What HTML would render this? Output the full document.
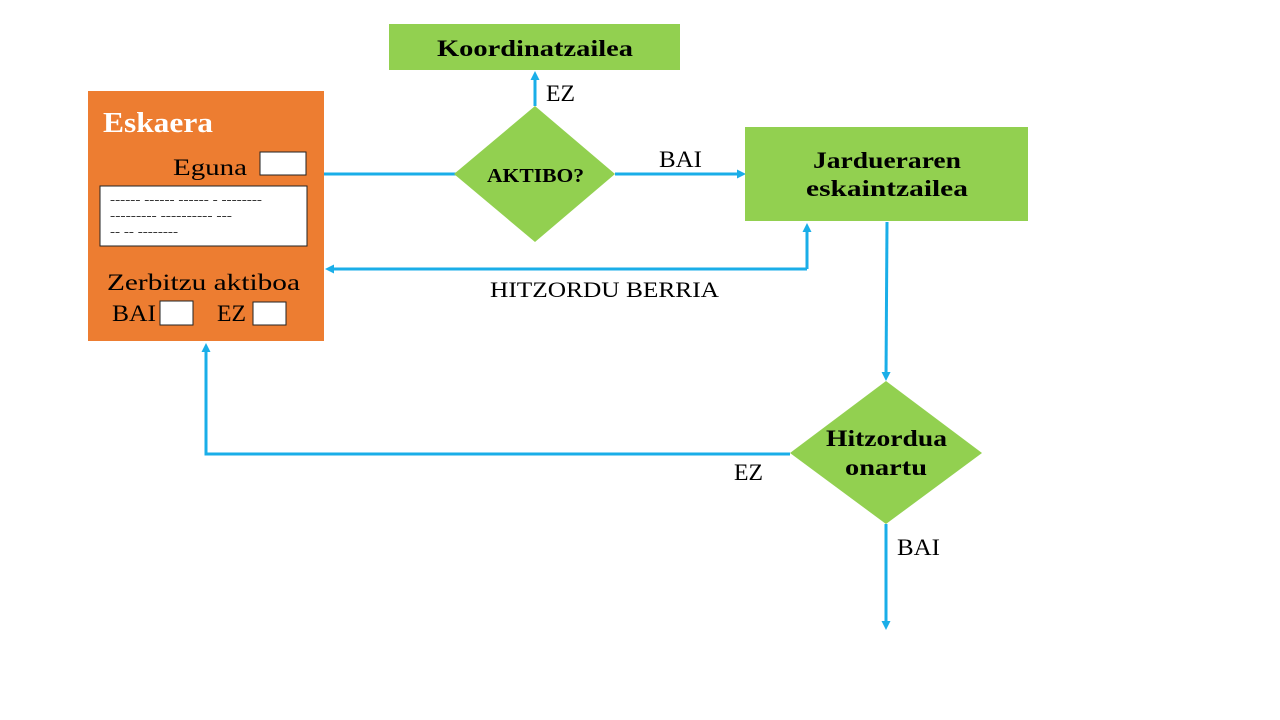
<!DOCTYPE html>
<html><head><meta charset="utf-8"><style>
html,body{margin:0;padding:0;background:#fff;width:1280px;height:720px;overflow:hidden}
text{font-family:"Liberation Serif",serif}
</style></head><body>
<svg width="1280" height="720" xmlns="http://www.w3.org/2000/svg">
<defs><marker id="a" markerWidth="9" markerHeight="9" refX="6" refY="4.5" orient="auto" markerUnits="userSpaceOnUse"><path d="M0,0 L9,4.5 L0,9 Z" fill="#1aaee8"/></marker></defs>
<g stroke="#1aaee8" stroke-width="3" fill="none">
<line x1="324" y1="174" x2="456" y2="174"/>
<line x1="615" y1="174" x2="743" y2="174" marker-end="url(#a)"/>
<line x1="535" y1="106" x2="535" y2="74" marker-end="url(#a)"/>
<polyline points="807,269 807,226" marker-end="url(#a)"/>
<line x1="807" y1="269" x2="328" y2="269" marker-end="url(#a)"/>
<line x1="887" y1="222" x2="886" y2="378" marker-end="url(#a)"/>
<polyline points="790,454 206,454 206,346" marker-end="url(#a)"/>
<line x1="886" y1="524" x2="886" y2="627" marker-end="url(#a)"/>
</g>
<g lengthAdjust="spacingAndGlyphs">
<rect x="389" y="24" width="291" height="46" fill="#92d050"/>
<text x="437" y="56" font-size="23" font-weight="bold" textLength="196" lengthAdjust="spacingAndGlyphs">Koordinatzailea</text>
<rect x="88" y="91" width="236" height="250" fill="#ed7d31"/>
<text x="103" y="132" font-size="28" font-weight="bold" fill="#fff" textLength="110" lengthAdjust="spacingAndGlyphs">Eskaera</text>
<text x="173" y="175" font-size="23" textLength="74" lengthAdjust="spacingAndGlyphs">Eguna</text>
<rect x="260" y="152" width="46" height="23" fill="#fff" stroke="#222"/>
<rect x="100" y="186" width="207" height="60" fill="#fff" stroke="#222"/>
<text x="110" y="203" font-size="11" textLength="152" lengthAdjust="spacingAndGlyphs">------ ------ ------ - --------</text>
<text x="110" y="219" font-size="11" textLength="122" lengthAdjust="spacingAndGlyphs">--------- ---------- ---</text>
<text x="110" y="235" font-size="11" textLength="68" lengthAdjust="spacingAndGlyphs">-- -- --------</text>
<text x="107" y="290" font-size="23" textLength="193" lengthAdjust="spacingAndGlyphs">Zerbitzu aktiboa</text>
<text x="112" y="321" font-size="23" textLength="44" lengthAdjust="spacingAndGlyphs">BAI</text>
<rect x="160" y="301" width="33" height="24" fill="#fff" stroke="#222"/>
<text x="217" y="321" font-size="23" textLength="29" lengthAdjust="spacingAndGlyphs">EZ</text>
<rect x="253" y="302" width="33" height="23" fill="#fff" stroke="#222"/>
<polygon points="535,106 615,174 535,242 454,174" fill="#92d050"/>
<text x="487" y="182" font-size="20" font-weight="bold" textLength="97" lengthAdjust="spacingAndGlyphs">AKTIBO?</text>
<text x="546" y="101" font-size="23" textLength="29" lengthAdjust="spacingAndGlyphs">EZ</text>
<text x="659" y="167" font-size="23" textLength="43" lengthAdjust="spacingAndGlyphs">BAI</text>
<rect x="745" y="127" width="283" height="94" fill="#92d050"/>
<text x="813" y="168" font-size="23" font-weight="bold" textLength="148" lengthAdjust="spacingAndGlyphs">Jardueraren</text>
<text x="806" y="196" font-size="23" font-weight="bold" textLength="162" lengthAdjust="spacingAndGlyphs">eskaintzailea</text>
<text x="490" y="297" font-size="22" textLength="229" lengthAdjust="spacingAndGlyphs">HITZORDU BERRIA</text>
<polygon points="886,381 982,453 886,524 790,453" fill="#92d050"/>
<text x="826" y="446" font-size="23" font-weight="bold" textLength="121" lengthAdjust="spacingAndGlyphs">Hitzordua</text>
<text x="845" y="475" font-size="23" font-weight="bold" textLength="82" lengthAdjust="spacingAndGlyphs">onartu</text>
<text x="734" y="480" font-size="23" textLength="29" lengthAdjust="spacingAndGlyphs">EZ</text>
<text x="897" y="555" font-size="23" textLength="43" lengthAdjust="spacingAndGlyphs">BAI</text>
</g>
</svg>
</body></html>
